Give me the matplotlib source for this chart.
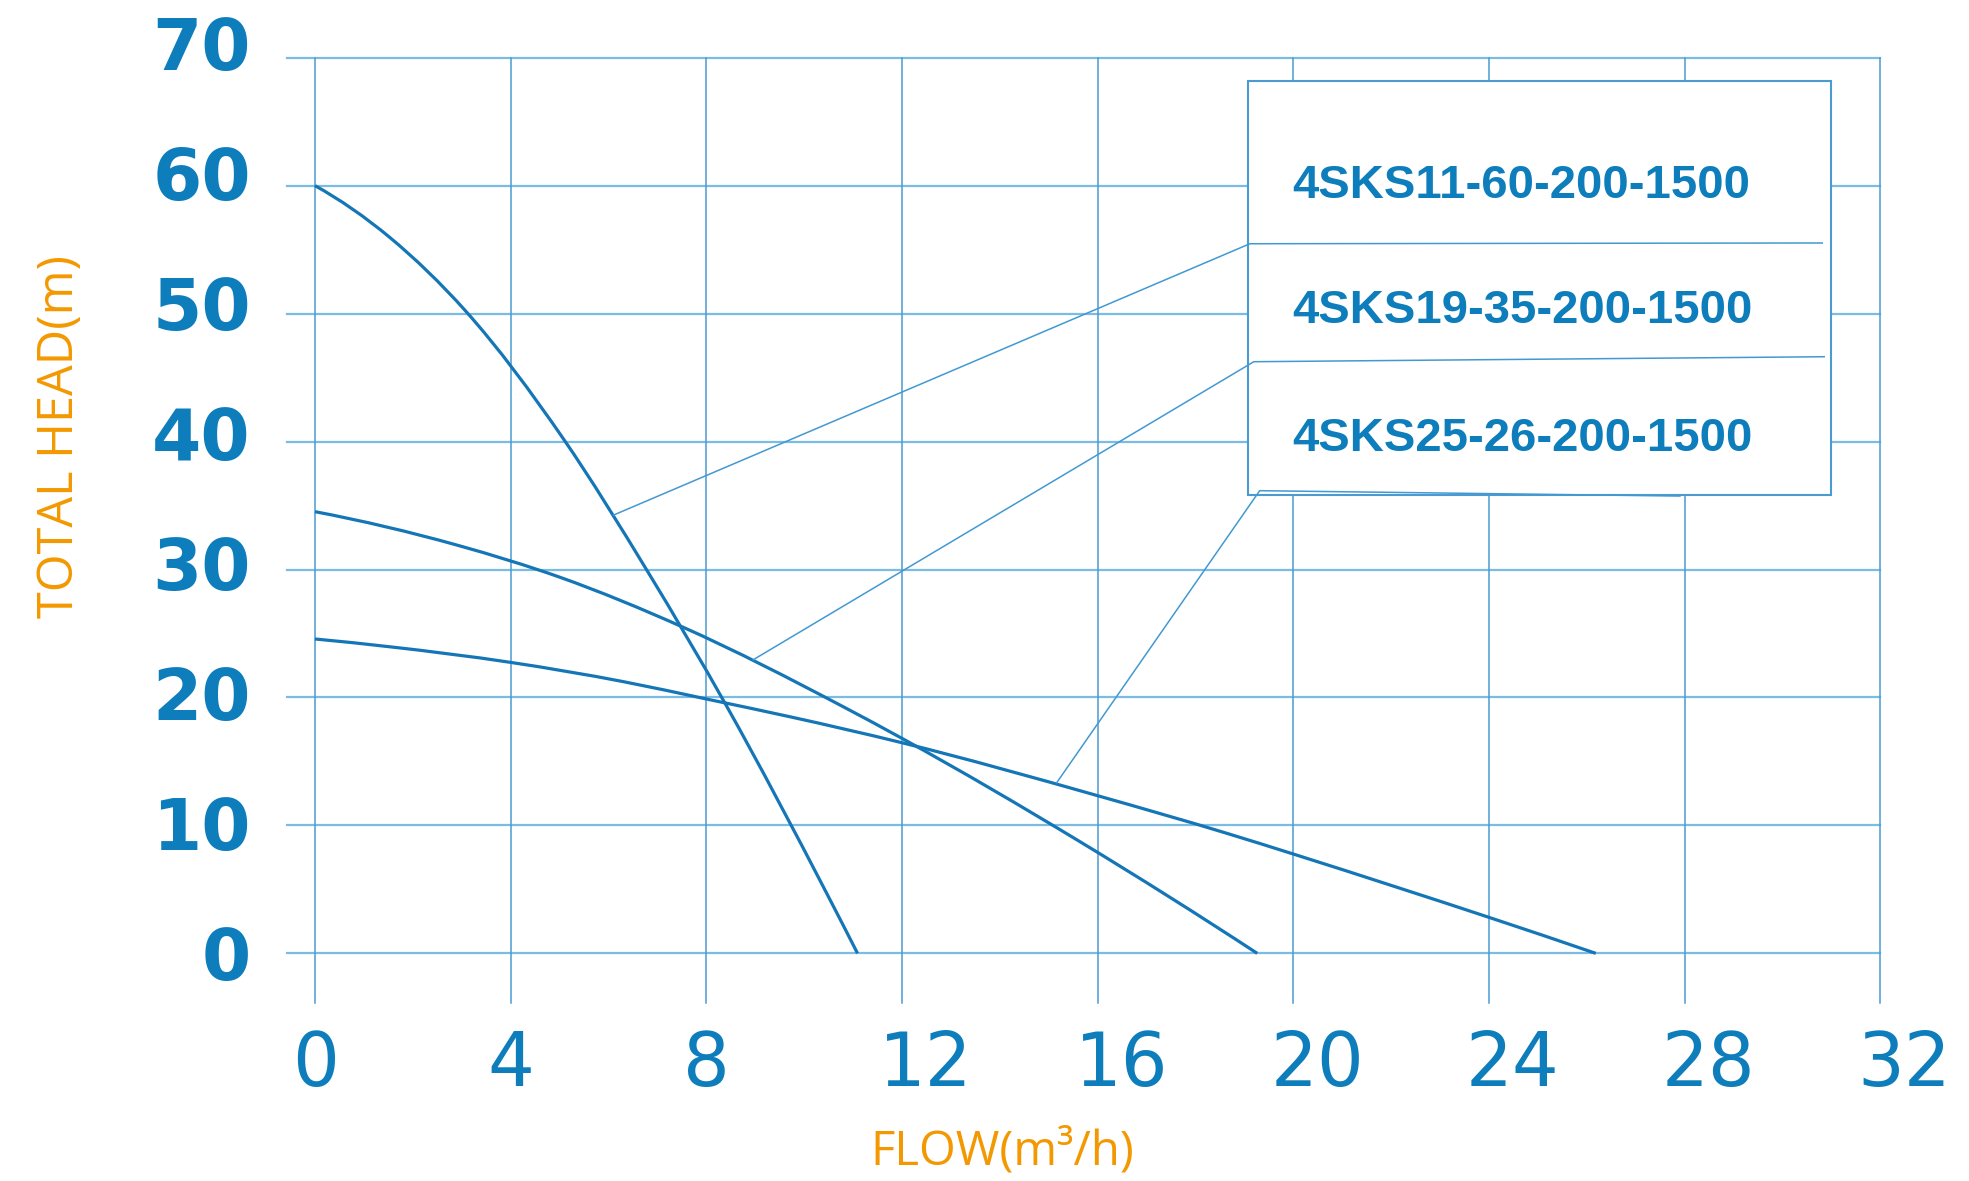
import matplotlib
matplotlib.use("Agg")
import matplotlib.pyplot as plt
from matplotlib.patches import Rectangle, PathPatch
from matplotlib.path import Path
from matplotlib.transforms import ScaledTranslation

# ---------------- data ----------------
flow_ticks = [0, 4, 8, 12, 16, 20, 24, 28, 32]
head_ticks = [0, 10, 20, 30, 40, 50, 60, 70]

models = ["4SKS11-60-200-1500", "4SKS19-35-200-1500", "4SKS25-26-200-1500"]

q_11_60 = [0, 1.53, 3.08, 5.08, 6.81, 8.41, 10.46, 11.09]
h_11_60 = [60.0, 55.95, 50.2, 40.2, 29.78, 19.35, 4.69, 0]

q_19_35 = [0, 2.90, 5.01, 7.50, 10.80, 12.0, 15.64, 19.26]
h_19_35 = [34.52, 31.91, 29.39, 25.53, 19.27, 16.8, 8.72, 0]

q_25_26 = [0, 1.53, 4.0, 6.31, 8.0, 9.71, 12.0, 16.0, 18.64, 20.0, 22.12, 24.0, 26.18]
h_25_26 = [24.57, 23.96, 22.74, 21.23, 19.88, 18.49, 16.46, 12.32, 9.38, 7.76, 5.16, 2.81, 0]

curves = [(q_11_60, h_11_60), (q_19_35, h_19_35), (q_25_26, h_25_26)]

# ---------------- style ----------------
BLUE = "#0d7dbb"
CURVE = "#1476b7"
GRID_H = "#7cbbe3"
GRID_V = "#4b9bd1"
LEADER = "#4299d2"
ORANGE = "#f39800"


def end_slope(h0, h1, s0, s1):
    m = ((2 * h0 + h1) * s0 - h0 * s1) / (h0 + h1)
    if m * s0 <= 0:
        return 0.0
    if abs(m) > 3 * abs(s0):
        return 3 * s0
    return m


def smooth_path(xs, ys):
    """Cubic Hermite (Bezier) path through the read points."""
    n = len(xs)
    hs = [xs[i + 1] - xs[i] for i in range(n - 1)]
    sec = [(ys[i + 1] - ys[i]) / hs[i] for i in range(n - 1)]
    m = []
    for i in range(n):
        if i == 0:
            m.append(end_slope(hs[0], hs[1], sec[0], sec[1]))
        elif i == n - 1:
            m.append(end_slope(hs[-1], hs[-2], sec[-1], sec[-2]))
        else:
            h0, h1 = hs[i - 1], hs[i]
            m.append((sec[i - 1] * h1 + sec[i] * h0) / (h0 + h1))
    verts = [(xs[0], ys[0])]
    codes = [Path.MOVETO]
    for i in range(n - 1):
        h = hs[i]
        verts += [(xs[i] + h / 3, ys[i] + m[i] * h / 3),
                  (xs[i + 1] - h / 3, ys[i + 1] - m[i + 1] * h / 3),
                  (xs[i + 1], ys[i + 1])]
        codes += [Path.CURVE4] * 3
    return Path(verts, codes)


fig = plt.figure(figsize=(19.69, 11.81), dpi=100)
ax = fig.add_axes([0.14576, 0.15072, 0.80929, 0.80042])

ax.set_xlim(-0.572, 32)
ax.set_ylim(-3.88, 70)
for s in ax.spines.values():
    s.set_visible(False)

ax.set_xticks(flow_ticks)
ax.set_yticks(head_ticks)
ax.set_xticklabels([str(v) for v in flow_ticks], fontsize=53, color=BLUE,
                   family="DejaVu Sans", ha="left")
ax.set_yticklabels([str(v) for v in head_ticks], fontsize=51, color=BLUE,
                   family="DejaVu Sans", fontweight="bold")
ax.tick_params(axis="x", length=0, pad=19)
ax.tick_params(axis="y", length=0, pad=26)

xoff = ScaledTranslation(-23 / 100, 0, fig.dpi_scale_trans)
for lab in ax.get_xticklabels():
    lab.set_transform(lab.get_transform() + xoff)
for v, lab in zip(head_ticks, ax.get_yticklabels()):
    up = (0.5 + 0.21 * v) / 100
    lab.set_transform(lab.get_transform() + ScaledTranslation(0, up, fig.dpi_scale_trans))

# grid lines
for y in head_ticks:
    ax.axhline(y, color=GRID_H, lw=1.6, zorder=1, clip_on=False)
for x in flow_ticks:
    ax.axvline(x, color=GRID_V, lw=1.1, zorder=1, clip_on=False)

# curves
for q, h in curves:
    ax.add_patch(PathPatch(smooth_path(q, h), facecolor="none", edgecolor=CURVE,
                           lw=2.3, zorder=3, capstyle="butt"))

# legend box
box = Rectangle((19.08, 35.82), 30.98 - 19.08, 68.2 - 35.82, facecolor="white",
                edgecolor=GRID_V, lw=1.5, zorder=4)
ax.add_patch(box)
label_y = [59.97, 50.2, 40.2]
for name, yy in zip(models, label_y):
    ax.text(19.98, yy, name, fontsize=34, color=BLUE, fontweight="bold",
            family="Liberation Sans", ha="left", va="center", zorder=6)

# leader lines: start on curve, elbow at box, end inside box
leaders = [
    ([6.10, 19.11, 30.81], [34.25, 55.46, 55.52]),
    ([8.96, 19.19, 30.85], [22.95, 46.24, 46.63]),
    ([15.16, 19.31, 27.90], [13.33, 36.16, 35.74]),
]
for lx, ly in leaders:
    ax.plot(lx, ly, color=LEADER, lw=1.1, zorder=5)

# axis titles
fig.text(1002 / 1969, 1 - 1152 / 1181, "FLOW(m³/h)", fontsize=34, color=ORANGE,
         family="Open Sans", ha="center", va="center")
fig.text(60 / 1969, 1 - 437 / 1181, "TOTAL HEAD(m)", fontsize=35, color=ORANGE,
         family="Open Sans", ha="center", va="center", rotation=90)

fig.savefig("out.png", dpi=100, facecolor="white")
